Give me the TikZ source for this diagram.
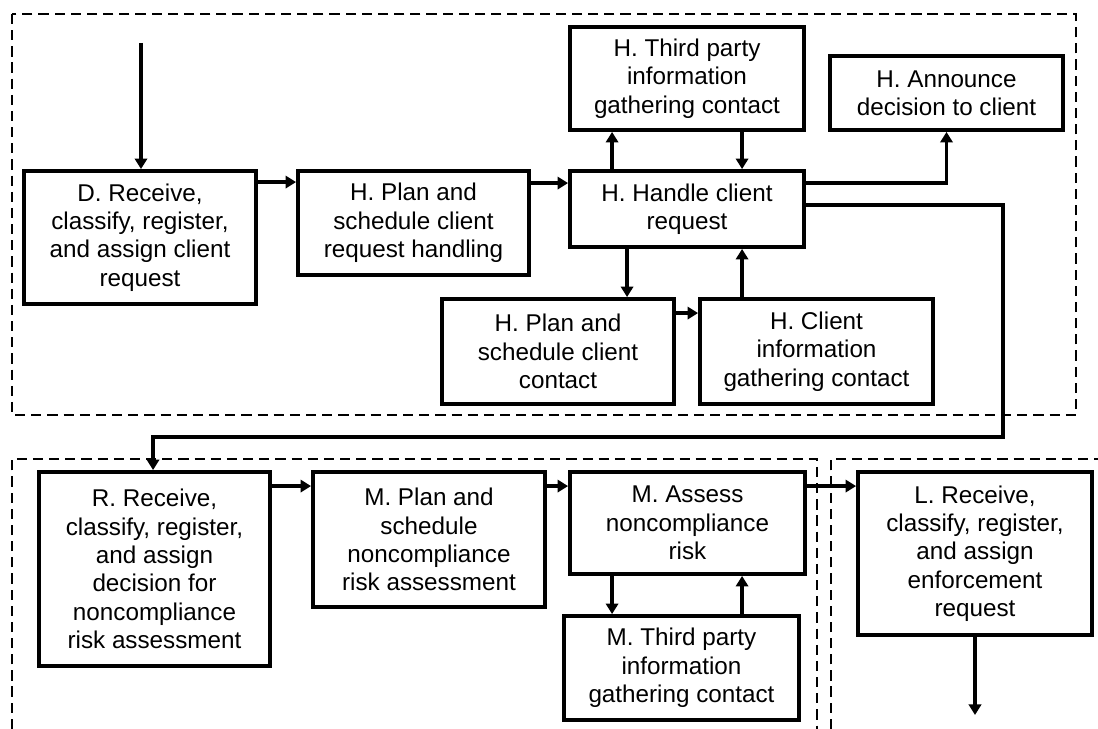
\documentclass[tikz,border=0pt]{standalone}
\usepackage{fontspec}
\setmainfont{Liberation Sans}
\usetikzlibrary{arrows.meta,calc}
\newcommand{\procbox}[6]{\node[box,minimum width={(#4-#2)*0.02cm},minimum height={(#5-#3)*0.02cm}] (#1) at ({(#2+#4)/2},{(#3+#5)/2}) {#6};}
\begin{document}
\begin{tikzpicture}[x=0.02cm,y=-0.02cm,
  box/.style={draw,line width=2.2pt,inner sep=0pt,align=center,
    font=\fontsize{13.8}{16.1}\selectfont},
  arr/.style={line width=2.2pt,-{Triangle[length=6pt,width=7pt]}},
  group/.style={line width=1.4pt,dash pattern=on 5.8pt off 3.4pt}]
\useasboundingbox (0,0) rectangle (1098,729);
% groups
\draw[group] (12,14) rectangle (1076,415);
\draw[group] (12,729) -- (12,459) -- (817,459) -- (817,729);
\draw[group] (831,729) -- (831,459) -- (1098,459);
% boxes
\procbox{D}{24}{171}{256}{304}{D. Receive,\\classify, register,\\and assign client\\request}
\procbox{Hplan}{298}{171}{529}{275}{H. Plan and\\schedule client\\request handling}
\procbox{Handle}{570}{171}{804}{247}{H. Handle client\\request}
\procbox{Htp}{570}{27}{804}{130}{H. Third party\\information\\gathering contact}
\procbox{Ann}{830}{56}{1063}{130}{H. Announce\\decision to client}
\procbox{Hpcc}{442}{299}{674}{404}{H. Plan and\\schedule client\\contact}
\procbox{Hci}{700}{299}{933}{404}{H. Client\\information\\gathering contact}
\procbox{R}{39}{472}{270}{666}{R. Receive,\\classify, register,\\and assign\\decision for\\noncompliance\\risk assessment}
\procbox{Mplan}{313}{472}{545}{607}{M. Plan and\\schedule\\noncompliance\\risk assessment}
\procbox{Assess}{570}{472}{805}{574}{M. Assess\\noncompliance\\risk}
\procbox{Mtp}{564}{616}{799}{720}{M. Third party\\information\\gathering contact}
\procbox{L}{858}{472}{1092}{635}{L. Receive,\\classify, register,\\and assign\\enforcement\\request}
% free ends
\coordinate (start) at (141,43);
\coordinate (loop) at (1003,437);
\coordinate (finish) at (975,715);
% connectors
\draw[arr] (start) -- (start |- D.north);
\draw[arr] ($(D.north east)+(0,13)$) -- ($(Hplan.north west)+(0,13)$);
\draw[arr] ($(Hplan.north east)+(0,14)$) -- ($(Handle.north west)+(0,14)$);
\draw[arr] ($(Handle.north west)+(44,0)$) -- ($(Htp.south west)+(44,0)$);
\draw[arr] ($(Htp.south west)+(174,0)$) -- ($(Handle.north west)+(174,0)$);
\draw[arr] ($(Handle.north east)+(0,14)$) -| (Ann.south);
\draw[arr] ($(Handle.north east)+(0,36)$) -| (loop) -| ($(R.north west)+(116,0)$);
\draw[arr] ($(Handle.south west)+(59,0)$) -- ($(Hpcc.north west)+(187,0)$);
\draw[arr] ($(Hpcc.north east)+(0,16)$) -- ($(Hci.north west)+(0,16)$);
\draw[arr] ($(Hci.north west)+(44,0)$) -- ($(Handle.south west)+(174,0)$);
\draw[arr] ($(R.north east)+(0,16)$) -- ($(Mplan.north west)+(0,16)$);
\draw[arr] ($(Mplan.north east)+(0,16)$) -- ($(Assess.north west)+(0,16)$);
\draw[arr] ($(Assess.north east)+(0,16)$) -- ($(L.north west)+(0,16)$);
\draw[arr] ($(Assess.south west)+(44,0)$) -- ($(Mtp.north west)+(50,0)$);
\draw[arr] ($(Mtp.north west)+(180,0)$) -- ($(Assess.south west)+(174,0)$);
\draw[arr] (L.south) -- (finish);
\end{tikzpicture}
\end{document}
